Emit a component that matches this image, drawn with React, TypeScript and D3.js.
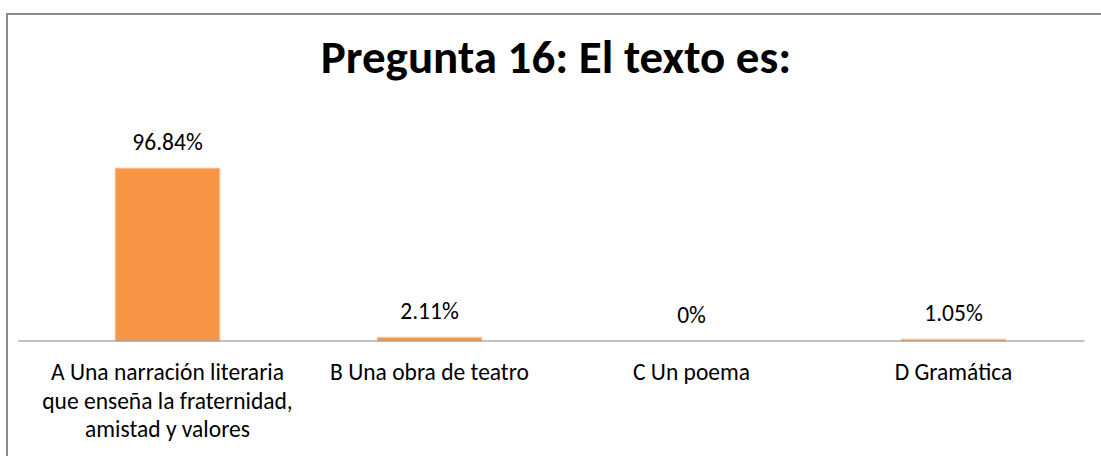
import React from "react";
import * as d3 from "d3";

const title = "Pregunta 16: El texto es:";
const categories = ["A", "B", "C", "D"];
const categoryLabels: string[][] = [
  ["A Una narración literaria", "que enseña la fraternidad,", "amistad y valores"],
  ["B Una obra de teatro"],
  ["C Un poema"],
  ["D Gramática"],
];
const values = [0.9684, 0.0211, 0, 0.0105];
const valueLabels = ["96.84%", "2.11%", "0%", "1.05%"];

const W = 1101;
const H = 456;
const FONT = "Calibri, Carlito, Lato, 'Open Sans', sans-serif";

export default function App() {
  const plotLeft = 36.5;
  const plotRight = 1084.5;
  const baseY = 341;
  const x = d3
    .scaleBand<string>()
    .domain(categories)
    .range([plotLeft, plotRight])
    .paddingInner(0.6)
    .paddingOuter(0.3);
  const y = d3.scaleLinear().domain([0, 1]).range([baseY, baseY - 178.6]);

  return (
    <svg
      width={W}
      height={H}
      style={{ position: "absolute", left: 0, top: 0, background: "#fff" }}
      fontFamily={FONT}
    >
      <rect x={7} y={14} width={W + 20} height={H + 20} fill="#fff" stroke="#8c8c8c" strokeWidth={2} />
      <text x={556} y={73} textAnchor="middle" fontSize={47} fontWeight="bold" fill="#000">
        {title}
      </text>
      {categories.map((c, i) => {
        const bx = x(c)!;
        const bw = x.bandwidth();
        const top = y(values[i]);
        return (
          <g key={c}>
            {values[i] > 0 && (
              <rect
                x={bx}
                y={top}
                width={bw}
                height={baseY - top}
                fill="#F79646"
                stroke="#fbd2b0"
                strokeWidth={1}
              />
            )}
            <text x={bx + bw / 2} y={top - 18} textAnchor="middle" fontSize={23.5} fill="#000">
              {valueLabels[i]}
            </text>
          </g>
        );
      })}
      <line x1={18} x2={plotRight} y1={baseY} y2={baseY} stroke="#868686" strokeWidth={1.2} />
      {categories.map((c, i) => {
        const cx = x(c)! + x.bandwidth() / 2;
        return (
          <text key={c} x={cx} y={380} textAnchor="middle" fontSize={23.5} fill="#000">
            {categoryLabels[i].map((l, j) => (
              <tspan key={j} x={cx} dy={j === 0 ? 0 : 28.5}>
                {l}
              </tspan>
            ))}
          </text>
        );
      })}
    </svg>
  );
}
